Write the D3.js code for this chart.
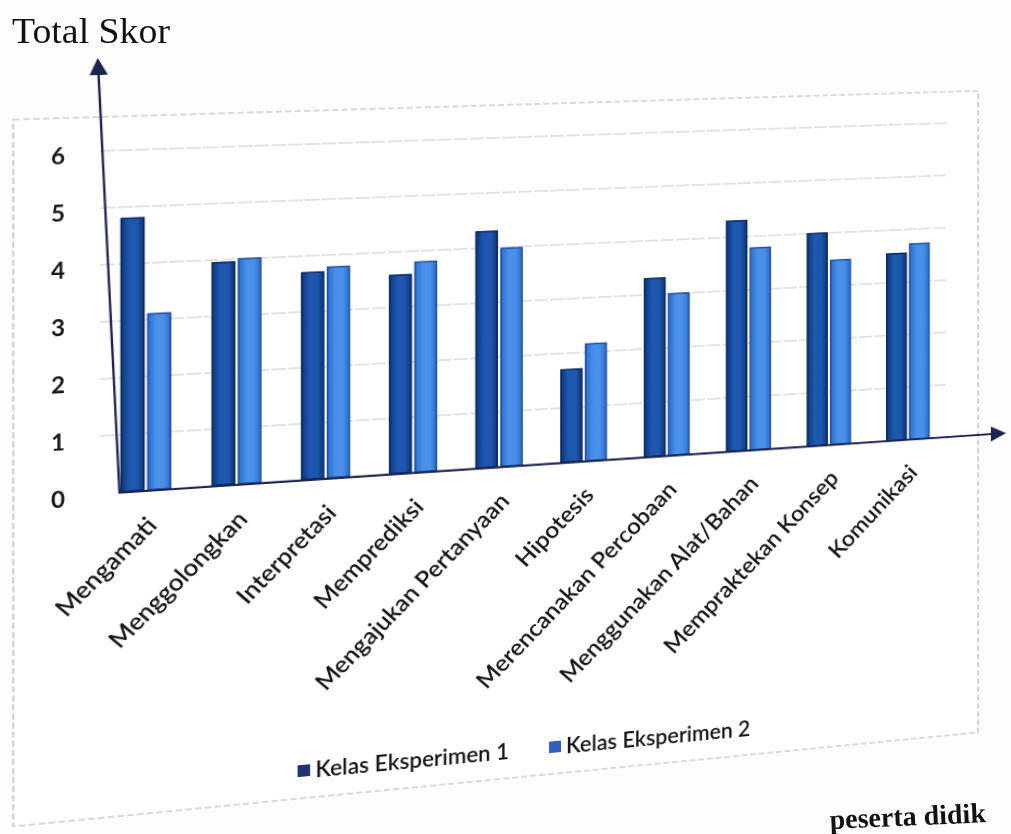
<!DOCTYPE html>
<html>
<head>
<meta charset="utf-8">
<script src="https://cdn.jsdelivr.net/npm/d3@7"></script>
<style>
html, body { margin: 0; padding: 0; background: #ffffff; }
#wrap { position: relative; width: 1011px; height: 834px; overflow: hidden; background: #fdfdfd; }
#wrap svg { position: absolute; left: 0; top: 0; overflow: visible; }
#chart { transform-origin: 0 0; }
</style>
</head>
<body>
<div id="wrap"></div>
<script>
// ---------------- data ----------------
const categories = [
  "Mengamati", "Menggolongkan", "Interpretasi", "Memprediksi",
  "Mengajukan Pertanyaan", "Hipotesis", "Merencanakan Percobaan",
  "Menggunakan Alat/Bahan", "Mempraktekan Konsep", "Komunikasi"
];
const seriesNames = ["Kelas Eksperimen 1", "Kelas Eksperimen 2"];
const eksperimen1 = [4.8, 3.95, 3.7, 3.58, 4.3, 1.7, 3.3, 4.3, 4.0, 3.55];
const eksperimen2 = [3.1, 4.0, 3.78, 3.8, 3.98, 2.15, 3.0, 3.78, 3.48, 3.72];
const yTicks = [0, 1, 2, 3, 4, 5, 6];
const yTitle = "Total Skor";
const pageText = "peserta didik";

// ---------------- layout ----------------
const W = 1011, H = 834;
const plot = { left: 100, right: 947, top: 151, bottom: 493 };
const frame = { left: 21, top: 117, right: 981, bottom: 818 };
// where the plot corners ended up in the photographed page (perspective of the scan)
const photoCorners = [[100, 151], [947, 123], [947, 437], [100, 493]];

const colors = {
  s1: ["#0f357a", "#1d58ae", "#0f357a"], s1Stroke: "#0b2560", s1Legend: "#1c3470",
  s2: ["#2a6ccc", "#4a8fe8", "#2a6ccc"], s2Stroke: "#1d4ea3", s2Legend: "#3060c4",
  grid: "#c8c8c8", frame: "#b3b3b3", text: "#161616", arrow: "#1b2550"
};
const FONT = "Lato, 'Open Sans', sans-serif";

const table = categories.map((c, i) => ({ cat: c, values: [eksperimen1[i], eksperimen2[i]] }));

const y = d3.scaleLinear().domain([0, 6]).range([plot.bottom, plot.top]);
const x0 = d3.scaleBand().domain(categories).range([plot.left, plot.right])
  .paddingInner(0.46).paddingOuter(0.23);
const x1 = d3.scaleBand().domain(seriesNames).range([0, x0.bandwidth()]).paddingInner(0.15);

const wrap = d3.select("#wrap");
const svg = wrap.append("svg").attr("id", "chart").attr("width", W).attr("height", H);
const defs = svg.append("defs");

[["g1", colors.s1], ["g2", colors.s2]].forEach(([id, cs]) => {
  const g = defs.append("linearGradient").attr("id", id).attr("x1", 0).attr("x2", 1).attr("y1", 0).attr("y2", 0);
  g.append("stop").attr("offset", "0%").attr("stop-color", cs[0]);
  g.append("stop").attr("offset", "35%").attr("stop-color", cs[1]);
  g.append("stop").attr("offset", "70%").attr("stop-color", cs[1]);
  g.append("stop").attr("offset", "100%").attr("stop-color", cs[2]);
});
defs.append("marker").attr("id", "arrow").attr("viewBox", "0 0 10 10")
  .attr("refX", 9).attr("refY", 5).attr("markerWidth", 17).attr("markerHeight", 17)
  .attr("markerUnits", "userSpaceOnUse").attr("orient", "auto")
  .append("path").attr("d", "M0,0 L10,5 L0,10 Z").attr("fill", colors.arrow);

// chart frame
svg.append("rect")
  .attr("x", frame.left).attr("y", frame.top)
  .attr("width", frame.right - frame.left).attr("height", frame.bottom - frame.top)
  .attr("fill", "#ffffff").attr("stroke", colors.frame).attr("stroke-width", 1.2)
  .attr("stroke-dasharray", "6 3");

// gridlines
svg.append("g").selectAll("line").data(yTicks.filter(d => d > 0)).join("line")
  .attr("x1", plot.left).attr("x2", plot.right)
  .attr("y1", d => y(d)).attr("y2", d => y(d))
  .attr("stroke", colors.grid).attr("stroke-width", 1.1).attr("stroke-dasharray", "14 2");

// y tick labels
svg.append("g").selectAll("text").data(yTicks).join("text")
  .attr("x", plot.left - 32).attr("y", d => y(d) + 4)
  .attr("text-anchor", "end").attr("dominant-baseline", "central")
  .attr("font-family", FONT).attr("font-weight", 700).attr("font-size", 22)
  .attr("fill", colors.text).text(d => d);

// bars
const groups = svg.append("g").selectAll("g").data(table).join("g")
  .attr("transform", d => `translate(${x0(d.cat)},0)`);
groups.selectAll("rect").data(d => d.values.map((v, i) => ({ s: seriesNames[i], v, i }))).join("rect")
  .attr("x", d => x1(d.s)).attr("width", x1.bandwidth())
  .attr("y", d => y(d.v)).attr("height", d => y(0) - y(d.v))
  .attr("fill", d => d.i === 0 ? "url(#g1)" : "url(#g2)")
  .attr("stroke", d => d.i === 0 ? colors.s1Stroke : colors.s2Stroke).attr("stroke-width", 1.5);

// hand-drawn axis arrows
svg.append("line")
  .attr("x1", plot.left + 18).attr("y1", y(0) + 1)
  .attr("x2", W - 1).attr("y2", y(0))
  .attr("stroke", colors.arrow).attr("stroke-width", 2.2).attr("marker-end", "url(#arrow)");
svg.append("line")
  .attr("x1", plot.left + 18).attr("y1", y(0) + 2)
  .attr("x2", plot.left - 2).attr("y2", y(7.6))
  .attr("stroke", colors.arrow).attr("stroke-width", 2.2).attr("marker-end", "url(#arrow)");

// category labels (rotated)
svg.append("g").selectAll("text").data(categories).join("text")
  .attr("transform", d => `translate(${x0(d) + x0.bandwidth() / 2 + 5},${y(0) + 31}) rotate(-45)`)
  .attr("text-anchor", "end").attr("dominant-baseline", "central")
  .attr("font-family", FONT).attr("font-weight", 600).attr("font-size", 24)
  .attr("fill", colors.text).text(d => d);

// legend
const legend = svg.append("g");
const legendY = 790;
const items = legend.selectAll("g").data(seriesNames).join("g");
items.append("rect").attr("width", 12).attr("height", 12).attr("y", legendY - 6)
  .attr("fill", (d, i) => i === 0 ? colors.s1Legend : colors.s2Legend);
items.append("text").attr("x", 17).attr("y", legendY)
  .attr("dominant-baseline", "central")
  .attr("font-family", FONT).attr("font-weight", 600).attr("font-size", 22)
  .attr("fill", colors.text).text(d => d);
let cursor = 0;
const offsets = [];
items.each(function () {
  offsets.push(cursor);
  cursor += this.getBBox().width + 40;
});
const legendWidth = cursor - 40;
const legendStart = (frame.left + frame.right) / 2 + 10 - legendWidth / 2;
items.attr("transform", (d, i) => `translate(${legendStart + offsets[i]},0)`);

// ---------------- photo perspective (homography) ----------------
function solve(A, b) {
  const n = b.length;
  const M = A.map((r, i) => r.concat([b[i]]));
  for (let c = 0; c < n; c++) {
    let p = c;
    for (let r = c + 1; r < n; r++) if (Math.abs(M[r][c]) > Math.abs(M[p][c])) p = r;
    [M[c], M[p]] = [M[p], M[c]];
    for (let r = 0; r < n; r++) {
      if (r === c) continue;
      const f = M[r][c] / M[c][c];
      for (let k = c; k <= n; k++) M[r][k] -= f * M[c][k];
    }
  }
  return M.map((r, i) => r[n] / r[i]);
}
const src = [[x0.range()[0], y(6)], [x0.range()[1], y(6)], [x0.range()[1], y(0)], [x0.range()[0], y(0)]];
const A = [], bv = [];
src.forEach(([sx, sy], i) => {
  const [X, Y] = photoCorners[i];
  A.push([sx, sy, 1, 0, 0, 0, -X * sx, -X * sy]); bv.push(X);
  A.push([0, 0, 0, sx, sy, 1, -Y * sx, -Y * sy]); bv.push(Y);
});
const [a, b, c, d, e, f, g, h] = solve(A, bv);
svg.style("transform", `matrix3d(${a},${d},0,${g},${b},${e},0,${h},0,0,1,0,${c},${f},0,1)`);

// ---------------- page text (not part of the chart image) ----------------
const page = wrap.append("svg").attr("width", W).attr("height", H);
page.append("text").attr("x", 12).attr("y", 43)
  .attr("font-family", "'Liberation Serif', 'Times New Roman', serif").attr("font-size", 36)
  .attr("textLength", 158).attr("lengthAdjust", "spacingAndGlyphs")
  .attr("fill", "#111").text(yTitle);
page.append("text").attr("transform", "translate(830,829) rotate(-2.5)")
  .attr("font-family", "'Liberation Serif', 'Times New Roman', serif").attr("font-size", 28)
  .attr("font-weight", 700).attr("fill", "#111").text(pageText);
</script>
</body>
</html>
